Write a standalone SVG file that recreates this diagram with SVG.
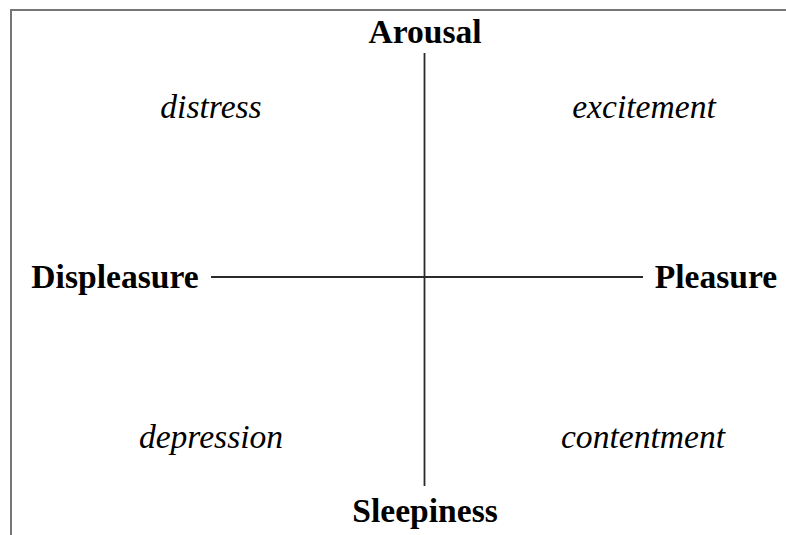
<svg xmlns="http://www.w3.org/2000/svg" width="786" height="535" viewBox="0 0 786 535">
<style>
.frame{stroke:#767676;stroke-width:2;fill:none}
.axis{stroke:#2a2a2a;stroke-width:1.8;fill:none}
.pole{font-family:"Liberation Serif","Times New Roman",serif;font-weight:bold;font-size:33.6px;fill:#000;text-anchor:middle}
.emo{font-family:"Liberation Serif","Times New Roman",serif;font-style:italic;font-size:33.6px;fill:#000;text-anchor:middle}
</style>
<rect width="786" height="535" fill="#fff"/>
<path class="frame" d="M11,535 V10 H786"/>
<g id="connectors">
<line class="axis" x1="424.5" y1="53" x2="424.5" y2="486"/>
<line class="axis" x1="211" y1="277" x2="643" y2="277"/>
</g>
<g id="arousal"><text class="pole" x="425" y="43">Arousal</text></g>
<g id="sleepiness"><text class="pole" x="425" y="522">Sleepiness</text></g>
<g id="displeasure"><text class="pole" x="115" y="288">Displeasure</text></g>
<g id="pleasure"><text class="pole" x="716" y="288">Pleasure</text></g>
<g id="distress"><text class="emo" x="211" y="118">distress</text></g>
<g id="excitement"><text class="emo" x="644" y="118">excitement</text></g>
<g id="depression"><text class="emo" x="211" y="448">depression</text></g>
<g id="contentment"><text class="emo" x="643" y="448">contentment</text></g>
</svg>
